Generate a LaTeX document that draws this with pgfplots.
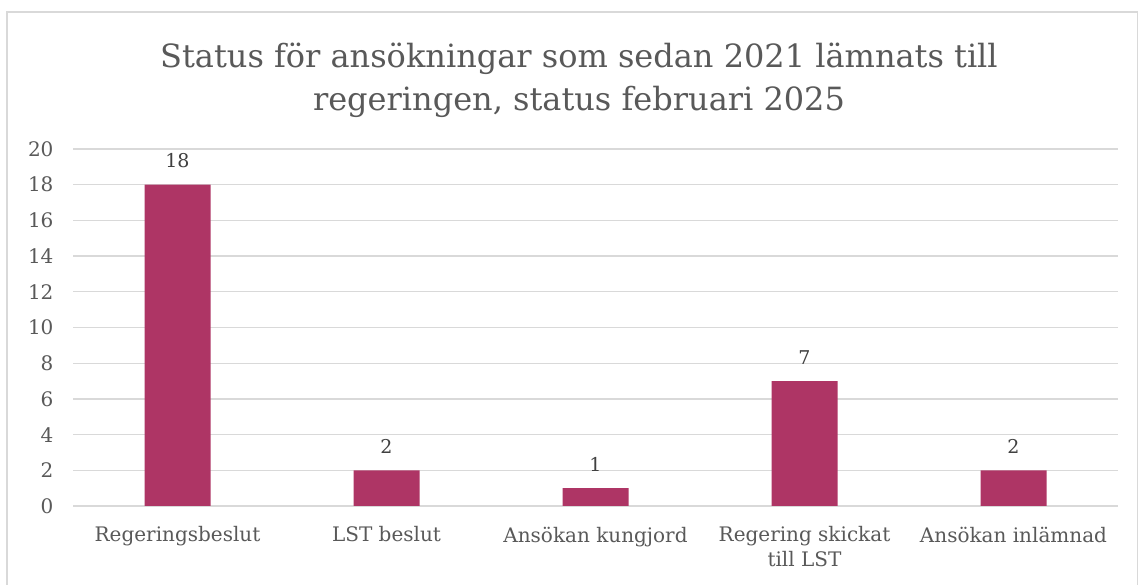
\documentclass[border=0pt]{standalone}
\usepackage{pgfplots}
\pgfplotsset{compat=1.18}
\usepackage{fontspec}
\setmainfont{DejaVu Serif}
\definecolor{barc}{HTML}{AE3565}
\definecolor{gridc}{HTML}{D9D9D9}
\definecolor{txt}{HTML}{595959}
\definecolor{lbl}{HTML}{404040}
\begin{document}
\begin{tikzpicture}[x=1pt,y=1pt]
\clip (0,0) rectangle (1138,585);
\fill[white] (0,0) rectangle (1138,585);
\draw[gridc, line width=1.5pt] (7,-10) -- (7,573) -- (1137.3,573) -- (1137.3,-10);
\node[text=txt, font=\fontsize{32}{43}\selectfont, align=center] at (579,505) {Status för ansökningar som sedan 2021 lämnats till\\regeringen, status februari 2025};
\begin{axis}[
  at={(73pt,79pt)}, anchor=south west, scale only axis,
  width=1045pt, height=357pt,
  xmin=-0.5, xmax=4.5, ymin=0, ymax=20,
  ytick={0,2,...,20},
  xtick=data,
  xticklabels={Regeringsbeslut,LST beslut,Ansökan kungjord,{Regering skickat\\till LST},Ansökan inlämnad},
  axis line style={draw=none},
  major tick style={draw=none},
  ymajorgrids, grid style={gridc, line width=1.3pt},
  /pgf/number format/assume math mode=true,
  yticklabel style={font=\fontsize{20}{22}\selectfont, text=txt, anchor=east, xshift=-16pt},
  xticklabel style={font=\fontsize{20}{25}\selectfont, text=txt, align=center, anchor=north, yshift=-13pt},
  ybar, bar width=66pt,
  nodes near coords,
  every node near coord/.append style={font=\fontsize{19}{22}\selectfont, text=lbl, yshift=13pt},
  clip=false,
]
\addplot[fill=barc, draw=none] coordinates {(0,18) (1,2) (2,1) (3,7) (4,2)};
\end{axis}
\end{tikzpicture}
\end{document}
